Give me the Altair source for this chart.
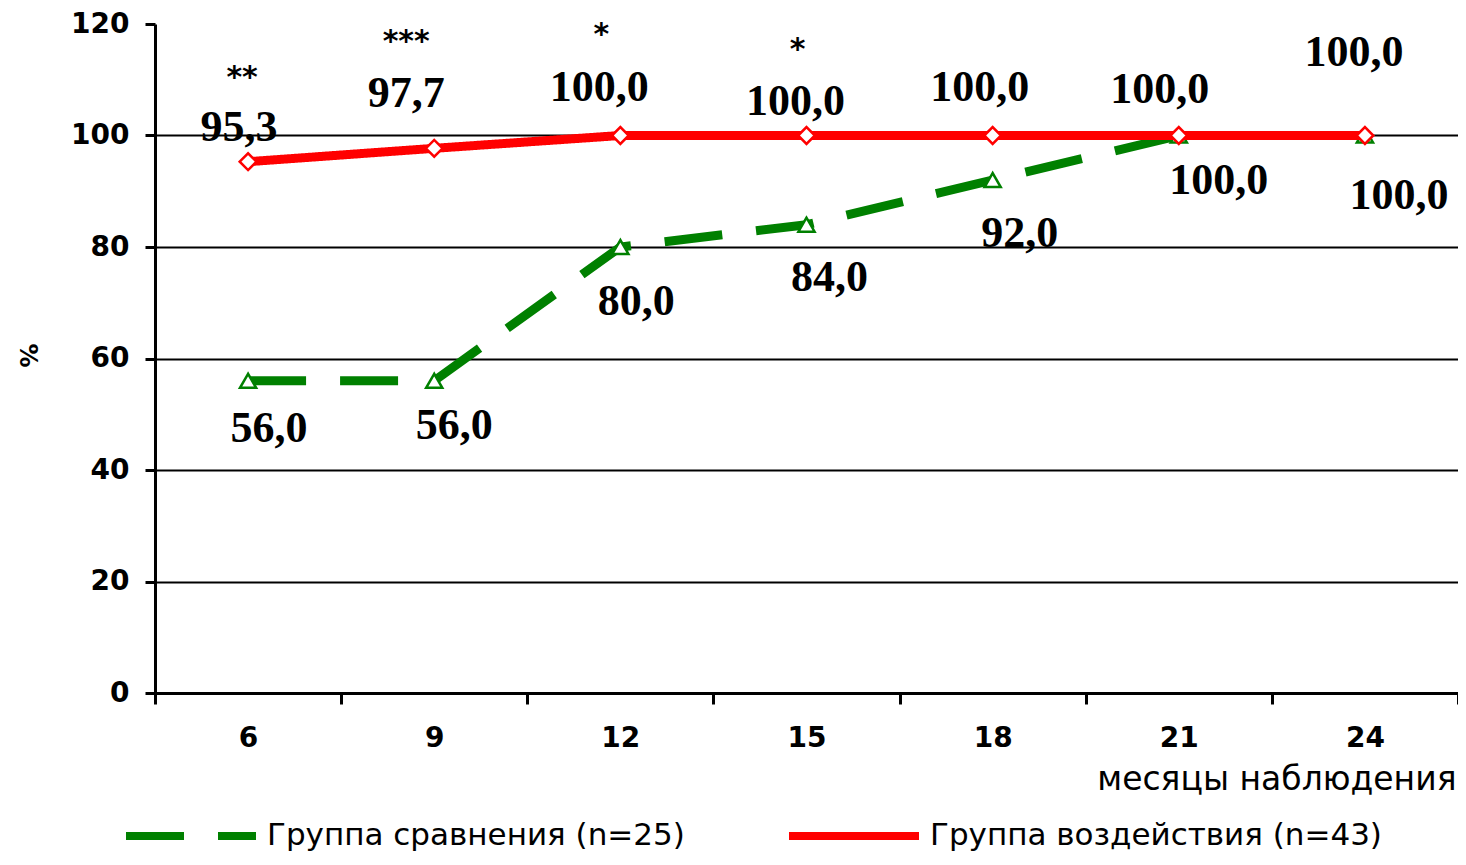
import altair as alt
import pandas as pd

months = ["6", "9", "12", "15", "18", "21", "24"]
treat_values = [95.3, 97.7, 100.0, 100.0, 100.0, 100.0, 100.0]
comp_values = [56.0, 56.0, 80.0, 84.0, 92.0, 100.0, 100.0]
stars = ["**", "***", "*", "*", "", "", ""]
treat_name = "Группа воздействия (n=43)"
comp_name = "Группа сравнения (n=25)"
y_ticks = [0, 20, 40, 60, 80, 100, 120]

# label offsets in pixels (hand placement as in the original)
treat_dx = [-9, -28, -21, -11, -13, -19, -11]
treat_dy = [-34, -54, -48, -34, -48, -46, -83]
comp_dx = [21, 20, 16, 23, 27, 40, 34]
comp_dy = [48, 45, 55, 53, 54, 45, 60]
star_dx = [-6, -28, -19, -9, 0, 0, 0]
star_dy = [-84, -106, -101, -86, 0, 0, 0]


def fmt(v):
    return f"{v:.1f}".replace(".", ",")


rows = []
for i, m in enumerate(months):
    rows.append(dict(month=m, series=comp_name, value=comp_values[i], label=fmt(comp_values[i]),
                     dx=comp_dx[i], dy=comp_dy[i], star="", sdx=0, sdy=0))
    rows.append(dict(month=m, series=treat_name, value=treat_values[i], label=fmt(treat_values[i]),
                     dx=treat_dx[i], dy=treat_dy[i], star=stars[i], sdx=star_dx[i], sdy=star_dy[i]))
df = pd.DataFrame(rows)

GREEN = "#008000"
RED = "#ff0000"

x = alt.X("month:N", sort=months, title="месяцы наблюдения",
          scale=alt.Scale(type="band", paddingInner=0, paddingOuter=0),
          axis=alt.Axis(tickBand="extent", labelAngle=0, labelFont="DejaVu Sans",
                        labelFontWeight="bold", labelFontSize=28, labelColor="black",
                        labelPadding=20, tickSize=11, tickWidth=3, tickColor="black",
                        domainColor="black", domainWidth=3, grid=False,
                        titleFont="DejaVu Sans", titleFontSize=33, titleFontWeight="normal",
                        titleColor="black", titleAnchor="end", titleAlign="right",
                        titleX=1301, titleY=86, titleBaseline="middle"))
y = alt.Y("value:Q", title="%",
          scale=alt.Scale(domain=[0, 120], nice=False, zero=True),
          axis=alt.Axis(values=y_ticks, labelFont="DejaVu Sans", labelFontWeight="bold",
                        labelFontSize=28, labelColor="black", labelPadding=16,
                        tickSize=10, tickWidth=3, tickColor="black",
                        domainColor="black", domainWidth=3,
                        grid=True, gridColor="black", gridWidth=2,
                        gridOpacity={"condition": {"test": "datum.value === 120", "value": 0}, "value": 1},
                        titleFont="DejaVu Sans", titleFontSize=24, titleFontWeight="bold",
                        titleColor="black", titleAngle=90, titleX=-129, titleY=331,
                        titleBaseline="middle"))

base = alt.Chart(df)

lines = base.mark_line(strokeWidth=9).encode(
    x=x, y=y,
    color=alt.Color("series:N", sort=[comp_name, treat_name],
                    scale=alt.Scale(domain=[comp_name, treat_name], range=[GREEN, RED]),
                    legend=alt.Legend(title=None, orient="none", direction="horizontal",
                                      legendX=-33, legendY=743, symbolType="stroke",
                                      symbolSize=16900, symbolStrokeWidth=8,
                                      labelFont="DejaVu Sans",
                                      labelFontSize=31,
                                      labelColor="black", labelLimit=700,
                                      columnPadding=88, labelOffset=7)),
    strokeDash=alt.StrokeDash("series:N", sort=[comp_name, treat_name],
                              scale=alt.Scale(domain=[comp_name, treat_name], range=[[58, 34], [1, 0]]),
                              legend=alt.Legend(title=None, orient="none")),
)

green_pts = base.transform_filter(alt.datum.series == comp_name).mark_point(
    shape="triangle-up", size=260, filled=True, fill="white", stroke=GREEN, strokeWidth=2.5, opacity=1
).encode(x=x, y=y)

red_pts = base.transform_filter(alt.datum.series == treat_name).mark_point(
    shape="diamond", size=280, filled=True, fill="white", stroke=RED, strokeWidth=2.5, opacity=1
).encode(x=x, y=y)

labels = base.mark_text(font="Liberation Serif", fontWeight="bold", fontSize=44, color="black",
                        dx=alt.ExprRef("datum.dx"), dy=alt.ExprRef("datum.dy"),
                        baseline="middle", align="center").encode(x=x, y=y, text="label:N")

star_text = base.transform_filter(alt.datum.star != "").mark_text(
    font="DejaVu Sans", fontWeight="bold", fontSize=30, color="black",
    dx=alt.ExprRef("datum.sdx"), dy=alt.ExprRef("datum.sdy"),
    baseline="middle", align="center").encode(x=x, y=y, text="star:N")

green_line = lines.transform_filter(alt.datum.series == comp_name)
red_line = lines.transform_filter(alt.datum.series == treat_name)

chart = alt.layer(green_line, green_pts, red_line, red_pts, labels, star_text).properties(
    width=1303, height=669,
    autosize=alt.AutoSizeParams(type="none"),
    padding={"left": 147, "top": 16, "right": 0, "bottom": 163},
).configure_view(stroke=None)

chart.save("out.html", embed_options={"renderer": "svg", "actions": False})
